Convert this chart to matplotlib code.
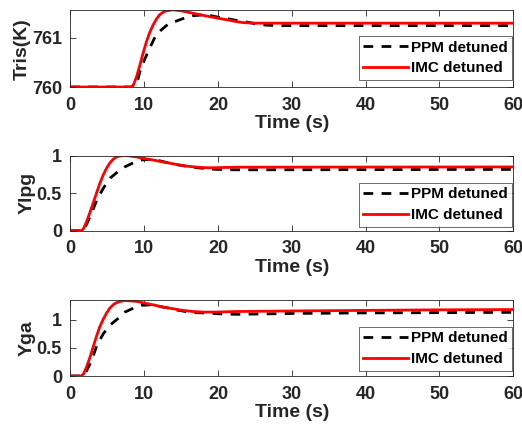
import matplotlib
matplotlib.use("Agg")
import matplotlib.pyplot as plt
from matplotlib.ticker import FormatStrFormatter

plt.rcParams['font.family'] = ['Liberation Sans', 'DejaVu Sans']
plt.rcParams['font.weight'] = 'bold'

# Tris(K) response
t_tris_ppm = [0, 8.7, 9.1, 9.4, 10.1, 10.7, 11.6, 12.3, 13.4, 14.3, 15.6, 16.6, 18.2,
              19.1, 20.4, 21.3, 22.7, 24.0, 25.0, 26.5, 28.0, 60]
tris_ppm = [760.0, 760.0, 760.12, 760.30, 760.57, 760.77, 761.05, 761.15, 761.29, 761.33,
            761.40, 761.44, 761.46, 761.44, 761.40, 761.38, 761.34, 761.31, 761.28, 761.25,
            761.24, 761.24]
t_tris_imc = [0, 8.3, 8.6, 9.0, 9.4, 9.85, 10.3, 10.75, 11.2, 11.65, 12.1, 12.55, 13.0,
              13.9, 15.0, 16.6, 18.9, 20.0, 21.5, 22.5, 23.5, 25.0, 60]
tris_imc = [760.0, 760.0, 760.06, 760.22, 760.43, 760.68, 760.91, 761.10, 761.25, 761.37,
            761.46, 761.51, 761.54, 761.56, 761.54, 761.49, 761.42, 761.39, 761.35, 761.32,
            761.30, 761.29, 761.29]

# Ylpg response
t_lpg_ppm = [0, 1.8, 2.0, 2.9, 3.6, 4.5, 5.4, 6.5, 7.4, 8.7, 9.6, 10.9, 12.1, 13.4,
             14.3, 15.6, 17.0, 18.9, 20.0, 22.5, 60]
lpg_ppm = [0, 0, 0.04, 0.24, 0.41, 0.57, 0.70, 0.79, 0.85, 0.91, 0.94, 0.95, 0.93, 0.90,
           0.88, 0.86, 0.84, 0.82, 0.815, 0.81, 0.815]
t_lpg_imc = [0, 1.5, 1.8, 2.2, 2.65, 3.1, 3.55, 4.0, 4.45, 4.9, 5.35, 5.8, 6.15, 6.5, 7.2,
             8.0, 9.0, 10.0, 11.2, 12.5, 13.9, 15.2, 16.6, 17.8, 18.9, 20.5, 22.5, 60]
lpg_imc = [0, 0, 0.03, 0.12, 0.24, 0.37, 0.50, 0.63, 0.74, 0.83, 0.90, 0.95, 0.975, 0.99, 1.0,
           0.995, 0.98, 0.96, 0.94, 0.915, 0.89, 0.865, 0.85, 0.84, 0.837, 0.84, 0.845, 0.848]

# Yga response
t_ga_ppm = [0, 1.8, 2.0, 2.9, 3.6, 4.5, 5.4, 6.5, 7.4, 8.7, 9.6, 10.9, 12.1, 13.4,
            14.3, 15.6, 17.0, 18.9, 20.0, 22.5, 30, 40, 50, 60]
ga_ppm = [0, 0, 0.04, 0.28, 0.55, 0.76, 0.91, 1.03, 1.14, 1.22, 1.26, 1.27, 1.24, 1.21,
          1.18, 1.15, 1.13, 1.12, 1.11, 1.10, 1.115, 1.125, 1.13, 1.135]
t_ga_imc = [0, 1.5, 1.8, 2.2, 2.65, 3.1, 3.55, 4.0, 4.45, 4.9, 5.35, 5.8, 6.15, 6.5, 7.2,
            8.0, 9.0, 10.0, 11.2, 12.5, 13.9, 15.2, 16.6, 18.0, 19.5, 22.5, 30, 40, 50, 60]
ga_imc = [0, 0, 0.04, 0.16, 0.33, 0.52, 0.71, 0.88, 1.01, 1.12, 1.21, 1.27, 1.30, 1.32, 1.345,
          1.34, 1.33, 1.30, 1.27, 1.23, 1.20, 1.17, 1.15, 1.14, 1.14, 1.15, 1.16, 1.17, 1.18, 1.185]

labels = ['PPM detuned', 'IMC detuned']
x_ticks = [0, 10, 20, 30, 40, 50, 60]

fig = plt.figure(figsize=(5.22, 4.29), dpi=100)
left, width = 0.1347, 0.8487
ax1 = fig.add_axes([left, 0.7972, width, 0.1788])
ax2 = fig.add_axes([left, 0.4622, width, 0.1753])
ax3 = fig.add_axes([left, 0.1235, width, 0.1765])

panels = [
    (ax1, t_tris_ppm, tris_ppm, t_tris_imc, tris_imc, 'Tris(K)', (760, 761.55), [760, 761], 0.091),
    (ax2, t_lpg_ppm, lpg_ppm, t_lpg_imc, lpg_imc, 'Ylpg', (0, 1.0), [0, 0.5, 1], 0.053),
    (ax3, t_ga_ppm, ga_ppm, t_ga_imc, ga_imc, 'Yga', (0, 1.35), [0, 0.5, 1], 0.07),
]

for ax, tp, yp, ti, yi, ylab, ylim, yt, leg_y in panels:
    ax.plot(tp, yp, color='black', lw=2, dashes=(3.5, 3), label=labels[0])
    ax.plot(ti, yi, color='red', lw=2, label=labels[1])
    ax.set_xlim(0, 60)
    ax.set_ylim(*ylim)
    ax.set_xticks(x_ticks)
    ax.set_yticks(yt)
    ax.yaxis.set_major_formatter(FormatStrFormatter('%g'))
    ax.tick_params(direction='in', top=True, right=True, length=4, width=0.6,
                   labelsize=13, colors='0.15', labelcolor='0.15')
    ax.tick_params(axis='x', pad=7)
    ax.tick_params(axis='y', pad=6)
    for sp in ax.spines.values():
        sp.set_color('0.15')
        sp.set_linewidth(0.6)
    ax.set_xlabel('Time (s)', fontsize=14, fontweight='bold', color='0.15', labelpad=1)
    ax.set_ylabel(ylab, fontsize=14, fontweight='bold', color='0.15', labelpad=1)
    leg = ax.legend(loc='lower right', bbox_to_anchor=(0.997, leg_y), fontsize=11,
                    frameon=True, fancybox=False, handlelength=2.9, handletextpad=0.2,
                    borderpad=0.3, labelspacing=0.45, borderaxespad=0)
    leg.get_frame().set_edgecolor('0.15')
    leg.get_frame().set_linewidth(0.6)
    for txt in leg.get_texts():
        txt.set_fontweight('bold')

fig.savefig('out.png', dpi=100)
